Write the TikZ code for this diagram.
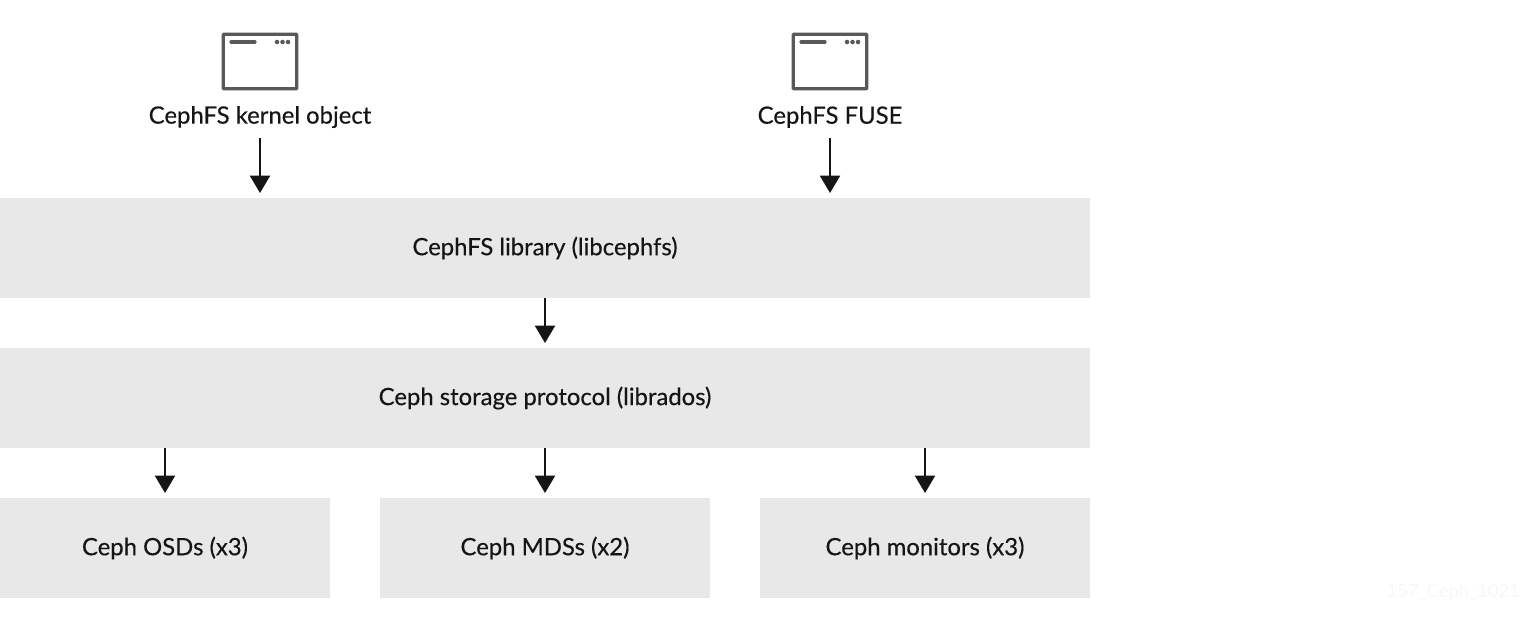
\documentclass[tikz,border=0pt]{standalone}
\usepackage{fontspec}
\setmainfont{Lato}[FakeBold=0.35]
\newfontfamily\markfont{Lato}
\usetikzlibrary{arrows.meta}
\definecolor{boxgray}{HTML}{E8E8E8}
\definecolor{icongray}{HTML}{595959}
\definecolor{inkblack}{HTML}{151515}
\definecolor{markgray}{HTML}{F7F7F7}
\tikzset{
  x=0.75pt,y=-0.75pt,
  layerbox/.style={fill=boxgray,inner sep=0pt,outer sep=0pt,minimum height=75pt,text=inkblack,font=\fontsize{17.9pt}{20pt}\selectfont,anchor=north west},
  wide/.style={minimum width=817.5pt},
  narrow/.style={minimum width=247.5pt},
  caption/.style={text=inkblack,font=\fontsize{17.9pt}{20pt}\selectfont,inner sep=0pt,outer sep=0pt,minimum height=31.5pt},
  flow/.style={draw=inkblack,line width=1.5pt,-{Triangle[length=13pt,width=15pt]},shorten >=3.75pt},
  winicon/.style={draw=icongray,line width=2.4pt,rounded corners=0.5pt,minimum width=55pt,minimum height=41pt,inner sep=0pt,outer sep=0pt},
  iconbar/.style={draw=icongray,line width=2.4pt,line cap=round},
  icondot/.style={fill=icongray,circle,inner sep=0pt,minimum size=3.4pt}
}
\begin{document}
\begin{tikzpicture}
\useasboundingbox (0,0) rectangle (1520,632);
\node[layerbox,wide] (lib) at (0,198) {CephFS library (libcephfs)};
\node[layerbox,wide] (rados) at (0,348) {\raisebox{-0.5pt}{Ceph storage protocol (librados)}};
\node[layerbox,narrow] (osd) at (0,498) {Ceph OSDs (x3)};
\node[layerbox,narrow] (mds) at (380,498) {Ceph MDSs (x2)};
\node[layerbox,narrow] (mon) at (760,498) {Ceph monitors (x3)};
\foreach \nm/\cx in {kern/260,fuse/830}{
  \node[winicon] (icon\nm) at (\cx,61.5) {};
  \coordinate (bar\nm a) at (\cx-29,42);
  \coordinate (bar\nm b) at (\cx-5,42);
  \draw[iconbar] (bar\nm a) -- (bar\nm b);
  \node[icondot] (dota\nm) at (\cx+17,42) {};
  \node[icondot] (dotb\nm) at (\cx+22.5,42) {};
  \node[icondot] (dotc\nm) at (\cx+28,42) {};
}
\node[caption] (kern) at (260,117) {CephFS kernel object};
\node[caption] (fuse) at (830,117) {CephFS FUSE};
\draw[flow] (kern.south) -- (kern.south |- lib.north);
\draw[flow] (fuse.south) -- (fuse.south |- lib.north);
\draw[flow] (lib.south) -- (rados.north);
\draw[flow] (osd.north |- rados.south) -- (osd.north);
\draw[flow] (mds.north |- rados.south) -- (mds.north);
\draw[flow] (mon.north |- rados.south) -- (mon.north);
\node[text=markgray,font=\markfont\fontsize{13.7pt}{16pt}\selectfont,inner sep=0pt,anchor=east] (mark) at (1520,592) {157\_Ceph\_1021};
\end{tikzpicture}
\end{document}
